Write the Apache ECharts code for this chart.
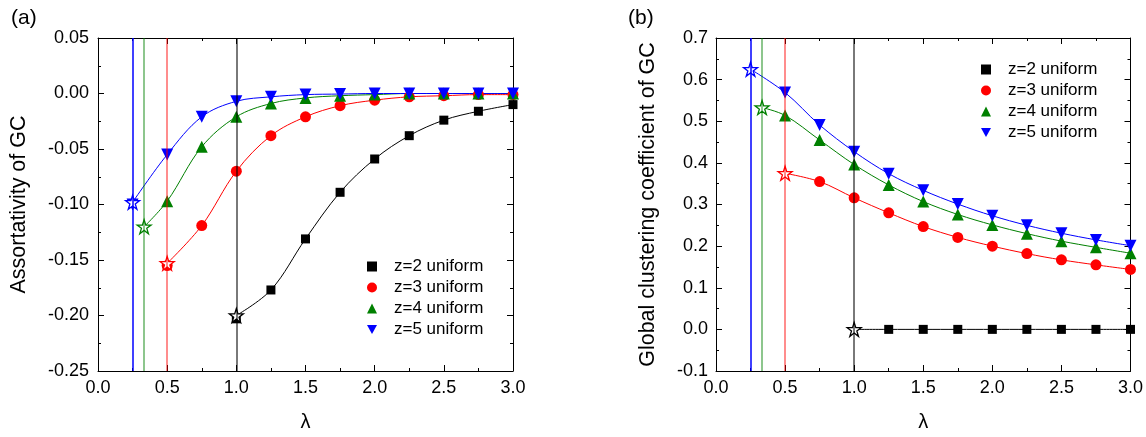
<!DOCTYPE html>
<html>
<head>
<meta charset="utf-8">
<script src="https://cdn.jsdelivr.net/npm/echarts@6/dist/echarts.min.js"></script>
<style>
html,body{margin:0;padding:0;background:#fff;}
#chart{width:1146px;height:437px;}
</style>
</head>
<body>
<div id="chart"></div>
<script>
// ---- data ----
const lam = [0.25, 0.5, 0.75, 1.0, 1.25, 1.5, 1.75, 2.0, 2.25, 2.5, 2.75, 3.0];
const names = ['z=2 uniform', 'z=3 uniform', 'z=4 uniform', 'z=5 uniform'];
const critLam = [1.0, 0.5, 1 / 3, 0.25];

// (a) assortativity of GC
const assortZ2 = [null, null, null, -0.203, -0.177, -0.131, -0.089, -0.059, -0.038, -0.024, -0.016, -0.010];
const assortZ3 = [null, -0.155, -0.119, -0.070, -0.038, -0.021, -0.011, -0.006, -0.003, -0.002, -0.001, -0.001];
const assortZ4 = [null, -0.097, -0.048, -0.021, -0.009, -0.004, -0.002, -0.001, 0.0, 0.0, 0.0, 0.0];
const assortZ5 = [-0.100, -0.055, -0.021, -0.007, -0.003, -0.001, -0.0005, 0.0, 0.0, 0.0, 0.0, 0.0];
const assortStar = [-0.200, -0.153, -0.120, -0.098];

// (b) global clustering coefficient of GC
const clustZ2 = [null, null, null, null, 0.0, 0.0, 0.0, 0.0, 0.0, 0.0, 0.0, 0.0];
const clustZ3 = [null, null, 0.355, 0.316, 0.280, 0.247, 0.221, 0.200, 0.182, 0.167, 0.155, 0.144];
const clustZ4 = [null, 0.514, 0.455, 0.396, 0.347, 0.307, 0.276, 0.251, 0.230, 0.212, 0.197, 0.183];
const clustZ5 = [null, 0.569, 0.491, 0.427, 0.374, 0.334, 0.301, 0.273, 0.250, 0.231, 0.215, 0.201];
const clustStar = [0.0, 0.375, 0.533, 0.625];

// ---- style ----
const FONT = "'Liberation Sans', Arial, Helvetica, sans-serif";
const colors = ['#000000', '#ff0000', '#008000', '#0000ff'];
const vlineColors = ['rgba(0,0,0,0.7)', 'rgba(255,0,0,0.6)', 'rgba(0,128,0,0.6)', '#0000ff'];
const symbols = ['rect', 'circle', 'triangle', 'triangle'];
const symRot = [0, 0, 0, 180];
const symSize = [9, 11, 12, 12];
const STAR = 'path://M50,0 L61.2,34.5 L97.6,34.5 L68.2,55.9 L79.4,90.5 L50,69.1 L20.6,90.5 L31.8,55.9 L2.4,34.5 L38.8,34.5 Z';
const DOWN_TRI = 'path://M0,0 L10,0 L5,9 Z';
const legendIcons = ['rect', 'circle', 'triangle', DOWN_TRI];

function panelSeries(gi, vals, stars) {
  const out = [];
  for (let k = 0; k < 4; k++) {
    out.push({
      type: 'line', xAxisIndex: gi * 2, yAxisIndex: gi * 2, data: [], silent: true, z: 1,
      markLine: {
        silent: true, symbol: 'none', label: { show: false }, animation: false,
        lineStyle: { color: vlineColors[k], width: 1.5, type: 'solid' },
        data: [{ xAxis: critLam[k] }]
      }
    });
    const curve = [[critLam[k], stars[k]]];
    lam.forEach((x, i) => { if (vals[k][i] !== null && x > critLam[k] + 1e-9) curve.push([x, vals[k][i]]); });
    out.push({
      type: 'line', xAxisIndex: gi * 2, yAxisIndex: gi * 2, data: curve, smooth: 0.35,
      showSymbol: false, symbol: 'none', z: 2, silent: true,
      lineStyle: { color: colors[k], width: 1 }
    });
    const pts = [];
    lam.forEach((x, i) => { if (vals[k][i] !== null) pts.push([x, vals[k][i]]); });
    out.push({
      name: names[k], type: 'scatter', xAxisIndex: gi * 2, yAxisIndex: gi * 2, data: pts, z: 3,
      symbol: symbols[k], symbolRotate: symRot[k], symbolSize: symSize[k],
      itemStyle: { color: colors[k], opacity: 1 }
    });
    out.push({
      type: 'scatter', xAxisIndex: gi * 2, yAxisIndex: gi * 2, data: [[critLam[k], stars[k]]], z: 4,
      symbol: STAR, symbolSize: 14, silent: true,
      itemStyle: { color: '#ffffff', borderColor: colors[k], borderWidth: 1.3, opacity: 1 }
    });
  }
  return out;
}

function xAxes(gi) {
  const base = {
    type: 'value', gridIndex: gi, min: 0, max: 3, interval: 0.5,
    axisLine: { show: true, onZero: false, lineStyle: { color: '#000', width: 1 } },
    axisTick: { show: true, inside: true, length: 6, lineStyle: { color: '#000' } },
    minorTick: { show: true, splitNumber: 2, length: 3, lineStyle: { color: '#000' } },
    splitLine: { show: false }
  };
  return [
    Object.assign({}, base, {
      position: 'bottom', name: 'λ', nameLocation: 'middle', nameGap: 41,
      nameTextStyle: { fontFamily: FONT, fontSize: 20, color: '#000' },
      axisLabel: { show: true, fontFamily: FONT, fontSize: 18, color: '#000', margin: 8,
        formatter: v => v.toFixed(1), showMinLabel: true, showMaxLabel: true }
    }),
    Object.assign({}, base, { position: 'top', axisLabel: { show: false } })
  ];
}

function yAxes(gi, min, max, itv, dec, title, gap, lm) {
  const base = {
    type: 'value', gridIndex: gi, min: min, max: max, interval: itv,
    axisLine: { show: true, onZero: false, lineStyle: { color: '#000', width: 1 } },
    axisTick: { show: true, inside: true, length: 6, lineStyle: { color: '#000' } },
    minorTick: { show: true, splitNumber: 2, length: 3, lineStyle: { color: '#000' } },
    splitLine: { show: false }
  };
  return [
    Object.assign({}, base, {
      position: 'left', name: title, nameLocation: 'middle', nameGap: gap,
      nameTextStyle: { fontFamily: FONT, fontSize: 21.5, color: '#000' },
      axisLabel: { show: true, fontFamily: FONT, fontSize: 18, color: '#000', margin: lm,
        formatter: v => v.toFixed(dec), showMinLabel: true, showMaxLabel: true }
    }),
    Object.assign({}, base, { position: 'right', axisLabel: { show: false } })
  ];
}

function legendAt(left, top) {
  return {
    left: left, top: top, orient: 'vertical',
    data: names.map((n, i) => ({ name: n, icon: legendIcons[i] })),
    itemWidth: 10, itemHeight: 10, itemGap: 4, selectedMode: false,
    textStyle: { fontFamily: FONT, fontSize: 17, color: '#000', lineHeight: 17, padding: [0, 0, 0, 12] }
  };
}

const chart = echarts.init(document.getElementById('chart'), null, { renderer: 'canvas' });
chart.setOption({
  animation: false,
  backgroundColor: '#ffffff',
  grid: [
    { left: 98, top: 38, width: 415, height: 335, containLabel: false },
    { left: 716, top: 38, width: 415, height: 334, containLabel: false }
  ],
  xAxis: xAxes(0).concat(xAxes(1)),
  yAxis: yAxes(0, -0.25, 0.05, 0.05, 2, 'Assortativity of GC', 68, 9)
    .concat(yAxes(1, -0.1, 0.7, 0.1, 1, 'Global clustering coefficient of GC', 57, 8)),
  legend: [legendAt(362, 253), legendAt(976, 56)],
  graphic: [
    { type: 'text', left: 11, top: 8, style: { text: '(a)', font: '21px ' + FONT, fill: '#000' } },
    { type: 'text', left: 628, top: 8, style: { text: '(b)', font: '21px ' + FONT, fill: '#000' } }
  ],
  series: panelSeries(0, [assortZ2, assortZ3, assortZ4, assortZ5], assortStar)
    .concat(panelSeries(1, [clustZ2, clustZ3, clustZ4, clustZ5], clustStar))
});
</script>
</body>
</html>
